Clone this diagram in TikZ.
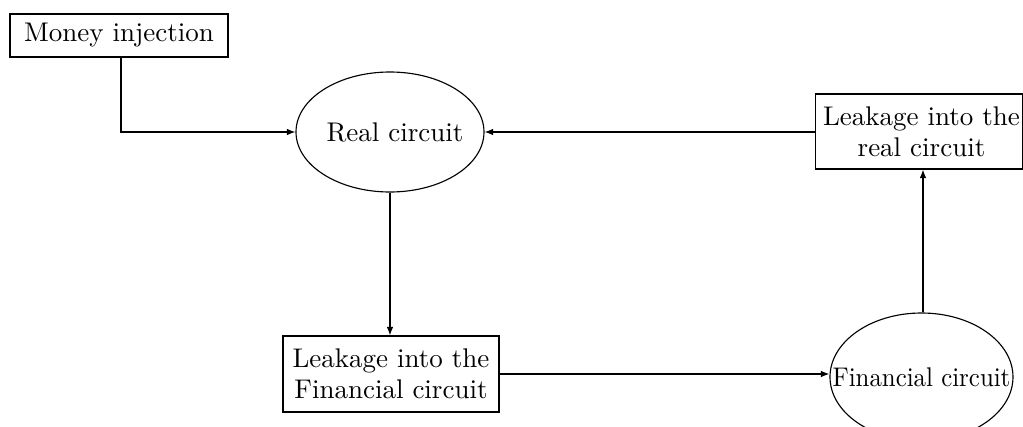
\documentclass[tikz,border=0pt]{standalone}
\usetikzlibrary{shapes.geometric,arrows.meta}
\begin{document}
\begin{tikzpicture}[x=0.4pt,y=-0.4pt,
  every node/.style={font=\fontsize{10.8}{12.4}\selectfont, inner sep=0pt, align=center},
  boxnode/.style={draw, line width=0.45pt, rectangle},
  ovalnode/.style={draw, line width=0.45pt, ellipse},
  arr/.style={draw, line width=0.45pt, -{Latex[length=3.4pt,width=2.6pt]}}]
\useasboundingbox (0,0) rectangle (1023,427);
\clip (0,0) rectangle (1023,427);
\node[boxnode, minimum width=87.2pt, minimum height=17.2pt] (money) at (119,35.5) {Money injection};
\node[ovalnode, minimum width=75.2pt, minimum height=48pt] (real) at (390,132) {\makebox[0pt]{\hspace*{4pt}Real circuit}};
\node[boxnode, minimum width=82.8pt, minimum height=30pt] (leakreal) at (919,131.5) {\hspace*{2pt}Leakage into the\\\hspace*{2pt}real circuit};
\node[boxnode, minimum width=86.4pt, minimum height=30.4pt] (leakfin) at (391,374) {Leakage into the\\Financial circuit};
\node[ovalnode, minimum width=73.2pt, minimum height=51.2pt] (fin) at (921.5,377) {\makebox[0pt]{\scalebox{0.92}[1]{Financial circuit}}};
\draw[arr] ([xshift=0.8pt]money.south) |- (real.west);
\draw[arr] (leakreal.west |- real.east) -- (real.east);
\draw[arr] (real.south) -- (real.south |- leakfin.north);
\draw[arr] (leakfin.east) -- (fin.west |- leakfin.east);
\draw[arr] ([xshift=0.6pt]fin.north) -- ([xshift=0.6pt]fin.north |- leakreal.south);
\end{tikzpicture}
\end{document}
